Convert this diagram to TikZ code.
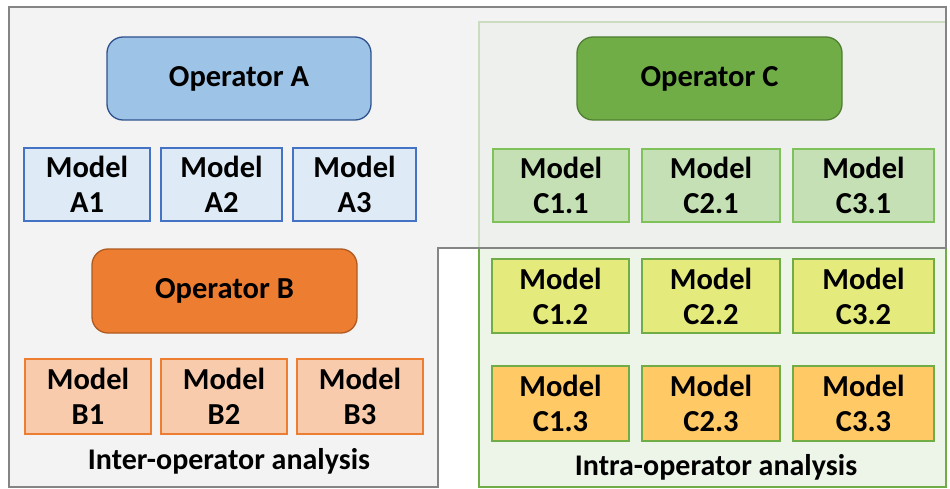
\documentclass[tikz,border=0pt]{standalone}
\usepackage{fontspec}
\setmainfont{Carlito}
\definecolor{grayfill}{HTML}{EFEFEF}
\definecolor{grayline}{HTML}{858585}
\definecolor{greenfill}{HTML}{EDF4E8}
\definecolor{greenline}{HTML}{70AD47}
\definecolor{opAfill}{HTML}{9DC3E6}
\definecolor{opAline}{HTML}{2F528F}
\definecolor{mAfill}{HTML}{DEEBF7}
\definecolor{mAline}{HTML}{4472C4}
\definecolor{opBfill}{HTML}{ED7D31}
\definecolor{opBline}{HTML}{AE5A21}
\definecolor{mBfill}{HTML}{F8CBAD}
\definecolor{mBline}{HTML}{ED7D31}
\definecolor{opCfill}{HTML}{70AD47}
\definecolor{opCline}{HTML}{507E32}
\definecolor{mCfill}{HTML}{C5E0B4}
\definecolor{mCline}{HTML}{7FC25A}
\definecolor{mCyfill}{HTML}{E5EA7D}
\definecolor{mCofill}{HTML}{FFC966}
\tikzset{
  txt/.style={font=\fontsize{30.5}{35}\selectfont\bfseries, text=black, align=center, inner sep=0pt},
  opbox/.style={txt, rounded corners=16pt, line width=1.3pt, minimum height=83pt},
  modbox/.style={txt, line width=1.3pt, minimum height=73pt},
  lbl/.style={font=\fontsize{30}{34}\selectfont\bfseries, text=black, inner sep=0pt}
}
\begin{document}
\begin{tikzpicture}[x=1pt,y=-1pt]
\useasboundingbox (0,0) rectangle (950,489);
\fill[white] (0,0) rectangle (950,489);
% intra-operator region
\draw[greenline, fill=greenfill, line width=1.5pt] (479,22) rectangle (946,487);
% inter-operator region (L shape)
\fill[grayfill, fill opacity=0.72] (9,7) -- (946,7) -- (946,248) -- (438,248) -- (438,487) -- (9,487) -- cycle;
\draw[grayline, line width=1.8pt] (9,7) -- (946,7) -- (946,248) -- (438,248) -- (438,487) -- (9,487) -- cycle;
% operator A
\node[opbox, draw=opAline, fill=opAfill, minimum width=264pt] (opA) at (239,78.5) {Operator A};
\node[modbox, draw=mAline, fill=mAfill, minimum width=126pt] (mA1) at (87,184.5) {Model\\A1};
\node[modbox, draw=mAline, fill=mAfill, minimum width=121pt] (mA2) at (221.5,184.5) {Model\\A2};
\node[modbox, draw=mAline, fill=mAfill, minimum width=123pt] (mA3) at (354.5,184.5) {Model\\A3};
% operator B
\node[opbox, draw=opBline, fill=opBfill, minimum width=265pt, minimum height=84pt] (opB) at (224.5,291) {Operator B};
\node[modbox, draw=mBline, fill=mBfill, minimum width=126pt, minimum height=75pt] (mB1) at (88,396.5) {Model\\B1};
\node[modbox, draw=mBline, fill=mBfill, minimum width=126pt, minimum height=75pt] (mB2) at (224,396.5) {Model\\B2};
\node[modbox, draw=mBline, fill=mBfill, minimum width=126pt, minimum height=75pt] (mB3) at (360,396.5) {Model\\B3};
\node[lbl] (lInter) at (229,461) {Inter-operator analysis};
% operator C
\node[opbox, draw=opCline, fill=opCfill, minimum width=265pt] (opC) at (709.5,78.5) {Operator C};
\node[modbox, draw=mCline, fill=mCfill, minimum width=136pt] (mC11) at (561,185.5) {Model\\C1.1};
\node[modbox, draw=mCline, fill=mCfill, minimum width=138pt] (mC21) at (711,185.5) {Model\\C2.1};
\node[modbox, draw=mCline, fill=mCfill, minimum width=141pt] (mC31) at (863.5,185.5) {Model\\C3.1};
\node[modbox, draw=greenline, fill=mCyfill, minimum width=137pt, minimum height=74pt] (mC12) at (560.5,296) {Model\\C1.2};
\node[modbox, draw=greenline, fill=mCyfill, minimum width=138pt, minimum height=74pt] (mC22) at (711,296) {Model\\C2.2};
\node[modbox, draw=greenline, fill=mCyfill, minimum width=141pt, minimum height=74pt] (mC32) at (863.5,296) {Model\\C3.2};
\node[modbox, draw=greenline, fill=mCofill, minimum width=137pt, minimum height=75pt] (mC13) at (560.5,403.5) {Model\\C1.3};
\node[modbox, draw=greenline, fill=mCofill, minimum width=138pt, minimum height=75pt] (mC23) at (711,403.5) {Model\\C2.3};
\node[modbox, draw=greenline, fill=mCofill, minimum width=141pt, minimum height=75pt] (mC33) at (863.5,403.5) {Model\\C3.3};
\node[lbl] (lIntra) at (716,467) {Intra-operator analysis};
\end{tikzpicture}
\end{document}
